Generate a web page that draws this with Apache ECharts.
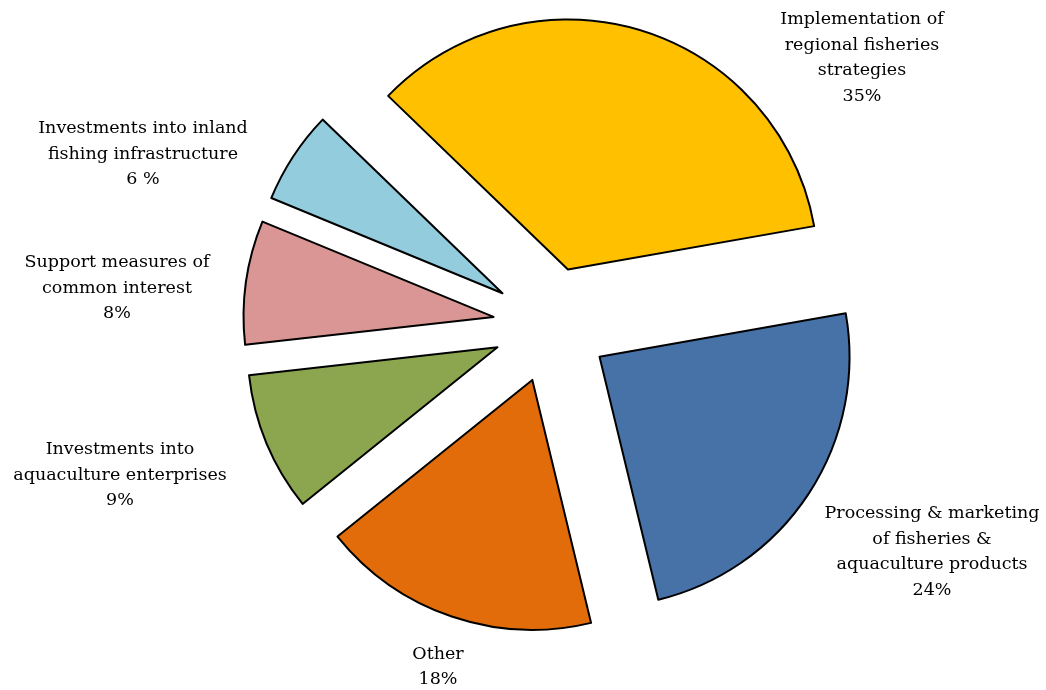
<!DOCTYPE html>
<html>
<head>
<meta charset="utf-8">
<script src="https://cdn.jsdelivr.net/npm/echarts@6/dist/echarts.min.js"></script>
<style>
html,body{margin:0;padding:0;background:#fff;}
#chart{width:1046px;height:690px;}
</style>
</head>
<body>
<div id="chart"></div>
<script>
var categories = [
  'Implementation of\nregional fisheries\nstrategies',
  'Processing & marketing\nof fisheries &\naquaculture products',
  'Other',
  'Investments into\naquaculture enterprises',
  'Support measures of\ncommon interest',
  'Investments into inland\nfishing infrastructure'
];
var values = [35, 24, 18, 9, 8, 6];
var valueLabels = ['35%', '24%', '18%', '9%', '8%', '6 %'];
var colors = ['#FFC000', '#4672A8', '#E36C0A', '#8CA64F', '#D99694', '#93CDDD'];
// label centre positions (layout only)
var labelCenters = [[862, 58], [932, 552], [438, 667], [120, 475], [117, 288], [143, 154]];

var chart = echarts.init(document.getElementById('chart'));
var data = categories.map(function (c, i) {
  return { name: c, value: values[i], selected: true, itemStyle: { color: colors[i] } };
});
var labels = categories.map(function (c, i) {
  return {
    type: 'text',
    x: labelCenters[i][0],
    y: labelCenters[i][1],
    silent: true,
    style: {
      text: c + '\n' + valueLabels[i],
      fontFamily: 'DejaVu Serif',
      fontSize: 17.5,
      lineHeight: 25.5,
      fill: '#000000',
      align: 'center',
      verticalAlign: 'middle'
    }
  };
});
chart.setOption({
  animation: false,
  backgroundColor: '#ffffff',
  graphic: labels,
  series: [{
    type: 'pie',
    center: [551, 325],
    radius: 250,
    startAngle: 136,
    clockwise: true,
    selectedMode: 'multiple',
    selectedOffset: 58,
    avoidLabelOverlap: false,
    data: data,
    itemStyle: { borderColor: '#000000', borderWidth: 2 },
    emphasis: { disabled: true },
    select: { itemStyle: { borderColor: '#000000', borderWidth: 2 } },
    label: { show: false },
    labelLine: { show: false }
  }]
});
</script>
</body>
</html>
